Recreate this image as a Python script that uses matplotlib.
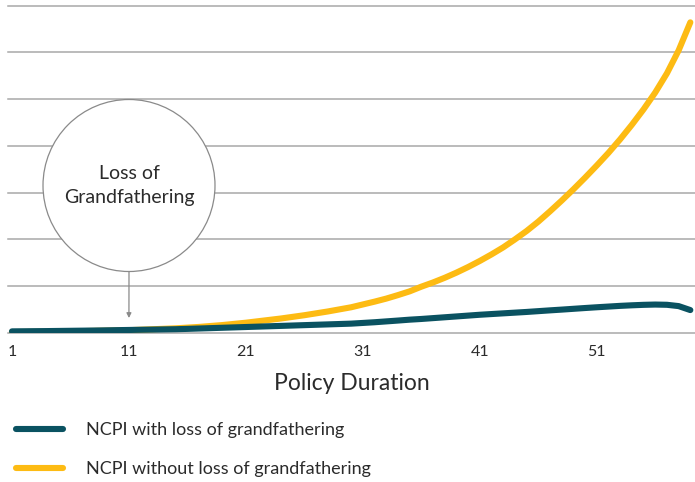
import matplotlib
matplotlib.use("Agg")
import matplotlib.pyplot as plt
from matplotlib.patches import Circle

years = list(range(1, 60))
ncpi_with_loss = [0.035, 0.037, 0.039, 0.041, 0.044, 0.047, 0.050, 0.053, 0.057, 0.061,
                  0.065, 0.069, 0.073, 0.077, 0.081, 0.088, 0.096, 0.104, 0.112, 0.120,
                  0.128, 0.136, 0.144, 0.152, 0.160, 0.168, 0.176, 0.184, 0.192, 0.200,
                  0.215, 0.230, 0.248, 0.266, 0.285, 0.300, 0.318, 0.336, 0.354, 0.372,
                  0.390, 0.405, 0.420, 0.435, 0.450, 0.467, 0.484, 0.500, 0.517, 0.534,
                  0.550, 0.565, 0.580, 0.592, 0.602, 0.608, 0.603, 0.575, 0.490]
ncpi_without_loss = [0.020, 0.022, 0.025, 0.028, 0.032, 0.036, 0.040, 0.045, 0.050, 0.055,
                     0.060, 0.070, 0.080, 0.090, 0.100, 0.115, 0.130, 0.150, 0.170, 0.195,
                     0.220, 0.250, 0.280, 0.310, 0.345, 0.380, 0.420, 0.460, 0.505, 0.550,
                     0.610, 0.670, 0.735, 0.810, 0.890, 0.990, 1.080, 1.180, 1.290, 1.410,
                     1.540, 1.680, 1.830, 2.000, 2.180, 2.380, 2.600, 2.830, 3.070, 3.320,
                     3.580, 3.850, 4.140, 4.450, 4.780, 5.140, 5.550, 6.040, 6.640]
xticks = [1, 11, 21, 31, 41, 51]
series_labels = ["NCPI with loss of grandfathering", "NCPI without loss of grandfathering"]
annotation_text = "Loss of\nGrandfathering"
annotation_year = 11
xlabel = "Policy Duration"

TEAL = "#0A5261"
YELLOW = "#FDBB13"
GRID = "#A8A8A8"
TXT = "#2b2b2b"

plt.rcParams['font.family'] = ['Lato', 'DejaVu Sans']

fig = plt.figure(figsize=(6.95, 4.82), dpi=100)
ax = fig.add_axes([8/695, 1-333/482, 687/695, (333-5.5)/482])
ax.set_xlim(0.66, 59.4)
ax.set_ylim(0, 7)
ax.set_yticks(range(0, 8))
ax.set_yticklabels([])
ax.grid(axis='y', color=GRID, lw=1.1)
ax.set_axisbelow(True)
for gl in ax.get_ygridlines():
    gl.set_clip_on(False)
for s in ax.spines.values():
    s.set_visible(False)
ax.tick_params(axis='both', length=0)
ax.set_xticks(xticks)
ax.set_xticklabels([str(t) for t in xticks], fontsize=11.5, color=TXT)
ax.tick_params(axis='x', pad=9)
ax.set_xlabel(xlabel, fontsize=16.5, color=TXT, labelpad=10)

l2, = ax.plot(years, ncpi_without_loss, color=YELLOW, lw=4.4, solid_capstyle='round',
              solid_joinstyle='round', label=series_labels[1], zorder=3)
l1, = ax.plot(years, ncpi_with_loss, color=TEAL, lw=4.4, solid_capstyle='round',
              solid_joinstyle='round', label=series_labels[0], zorder=4)

# annotation circle
circ = Circle((1.29, (482-185.5)/100), 0.86, transform=fig.dpi_scale_trans,
              facecolor='white', edgecolor='#8a8a8a', lw=0.9, zorder=5)
fig.add_artist(circ)
fig.text(129/695, 1-185.5/482, annotation_text, ha='center', va='center',
         fontsize=14, color=TXT, linespacing=1.45, zorder=6)
ax.annotate("", xy=(annotation_year, 0.32), xycoords='data',
            xytext=(129/695, 1-272/482), textcoords='figure fraction',
            arrowprops=dict(arrowstyle='-|>', color='#8a8a8a', lw=0.9,
                            mutation_scale=7, shrinkA=0, shrinkB=0), zorder=5)

leg = fig.legend(handles=[l1, l2], labels=series_labels, loc='upper left',
                 bbox_to_anchor=(11/695, 1-416.5/482), frameon=False, fontsize=13,
                 handlelength=2.6, handletextpad=1.28, labelspacing=1.28,
                 borderaxespad=0, borderpad=0.3)
for t in leg.get_texts():
    t.set_color(TXT)

fig.savefig("out.png", dpi=100)
